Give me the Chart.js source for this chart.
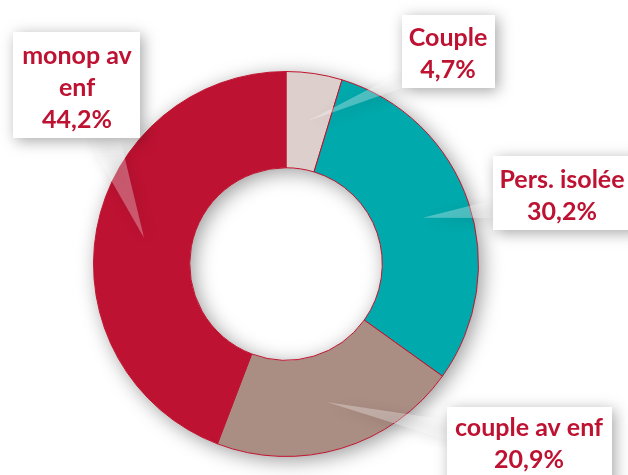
<!DOCTYPE html>
<html>
<head>
<meta charset="utf-8">
<script src="https://cdn.jsdelivr.net/npm/chart.js@4.4.0/dist/chart.umd.min.js"></script>
<style>
  html, body { margin: 0; padding: 0; background: #fff; }
  #wrap { width: 628px; height: 475px; position: relative; }
</style>
</head>
<body>
<div id="wrap"><canvas id="chart" width="628" height="475"></canvas></div>
<script>
// données du graphique
const categories = ['Couple', 'Pers. isolée', 'couple av enf', 'monop av enf'];
const labelLines = [['Couple'], ['Pers. isolée'], ['couple av enf'], ['monop av', 'enf']];
const shares = [4.7, 30.2, 20.9, 44.2];
const sliceColors = ['#ddd0cc', '#00a9ac', '#aa8d83', '#be1232'];

// emplacement des étiquettes (boîtes blanches avec pointe vers la part)
const labelBoxes = [
  { x: 402, y: 15, w: 93, h: 73, tx: 448, ty: 46, base: [[402, 72], [402, 88]] },
  { x: 493, y: 156, w: 145, h: 74, tx: 562, ty: 188, base: [[493, 200], [493, 218]] },
  { x: 447, y: 407, w: 165, h: 80, tx: 529, ty: 436, base: [[447, 420], [447, 440]] },
  { x: 13, y: 32, w: 127, h: 106, tx: 77, ty: 64, base: [[87, 138], [120, 138]] }
];

const TEXT_COLOR = '#be1232';
const LINE_H = 32;

function formatShare(v) {
  return v.toFixed(1).replace('.', ',') + '%';
}

// ombre douce sous l'anneau
const ringShadow = {
  id: 'ringShadow',
  beforeDatasetsDraw(chart) {
    const arc = chart.getDatasetMeta(0).data[0];
    if (!arc) return;
    const ctx = chart.ctx;
    ctx.save();
    ctx.shadowColor = 'rgba(0,0,0,0.4)';
    ctx.shadowBlur = 20;
    ctx.shadowOffsetX = 4;
    ctx.shadowOffsetY = 4;
    ctx.beginPath();
    ctx.arc(arc.x, arc.y, arc.outerRadius, 0, Math.PI * 2);
    ctx.arc(arc.x, arc.y, arc.innerRadius, 0, Math.PI * 2, true);
    ctx.fillStyle = '#ffffff';
    ctx.fill();
    ctx.restore();
  }
};

// étiquettes avec bulle
const calloutLabels = {
  id: 'calloutLabels',
  afterDatasetsDraw(chart) {
    const ctx = chart.ctx;
    const arcs = chart.getDatasetMeta(0).data;
    arcs.forEach((arc, i) => {
      const box = labelBoxes[i];
      const tip = arc.tooltipPosition();

      // pointe
      ctx.save();
      ctx.shadowColor = 'rgba(0,0,0,0.35)';
      ctx.shadowBlur = 14;
      ctx.shadowOffsetX = 3;
      ctx.shadowOffsetY = 3;
      ctx.beginPath();
      ctx.moveTo(box.base[0][0], box.base[0][1]);
      ctx.lineTo(tip.x, tip.y);
      ctx.lineTo(box.base[1][0], box.base[1][1]);
      ctx.closePath();
      ctx.fillStyle = 'rgba(255,255,255,0.3)';
      ctx.fill();

      // boîte
      ctx.fillStyle = '#ffffff';
      ctx.fillRect(box.x, box.y, box.w, box.h);
      ctx.restore();

      // texte
      ctx.save();
      ctx.fillStyle = TEXT_COLOR;
      ctx.font = 'bold 25px Lato, "Open Sans", sans-serif';
      ctx.textAlign = 'center';
      ctx.textBaseline = 'alphabetic';
      const lines = labelLines[i].concat([formatShare(shares[i])]);
      lines.forEach((line, k) => {
        ctx.fillText(line, box.tx, box.ty + k * LINE_H);
      });
      ctx.restore();
    });
  }
};

new Chart(document.getElementById('chart'), {
  type: 'doughnut',
  data: {
    labels: categories,
    datasets: [{
      data: shares,
      backgroundColor: sliceColors,
      borderColor: '#c0132f',
      borderWidth: 1
    }]
  },
  options: {
    responsive: false,
    animation: false,
    events: [],
    cutout: '50%',
    layout: { padding: { left: 93, right: 149, top: 71, bottom: 18 } },
    plugins: {
      legend: { display: false },
      tooltip: { enabled: false }
    }
  },
  plugins: [ringShadow, calloutLabels]
});
</script>
</body>
</html>
